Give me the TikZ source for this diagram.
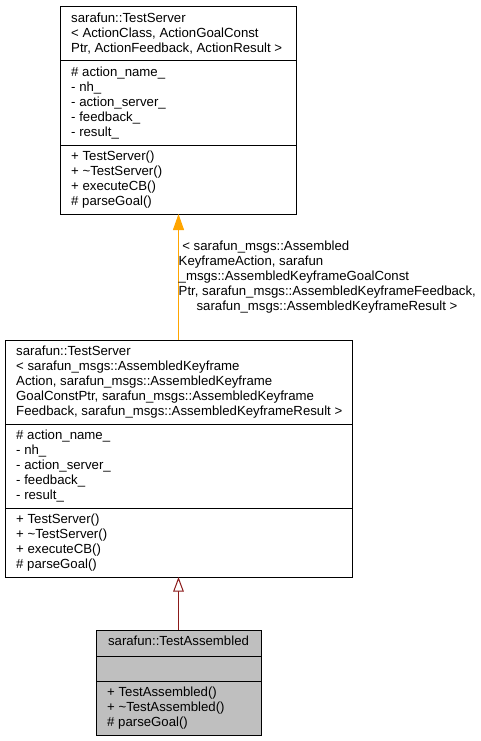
\documentclass[tikz,border=0pt]{standalone}
\usepackage{fontspec}
\setmainfont{Liberation Sans}
\usetikzlibrary{arrows.meta}
\definecolor{edgeorange}{HTML}{FFA500}
\definecolor{edgered}{HTML}{8B1A1A}
\definecolor{curgray}{HTML}{BFBFBF}
\newcommand\seclines[4]{%
  \foreach \t [count=\i from 0] in {#4} {\node[txt] (#1-\i) at (#2, #3+15.5+15*\i) {\t};}}
\begin{document}
\begin{tikzpicture}[x=1pt,y=-1pt,
  sec/.style={draw=black, line width=1pt, inner sep=0pt, outer sep=0pt, anchor=north west},
  txt/.style={anchor=base west, inner sep=0pt, font=\fontsize{13.2}{15}\selectfont},
  txtc/.style={txt, anchor=base},
  tmpledge/.style={draw=edgeorange, line width=1pt, -{Triangle[length=16pt,width=11pt,fill=edgeorange]}},
  inhedge/.style={draw=edgered, line width=1pt, -{Triangle[open,length=14.5pt,width=10.5pt,fill=white]}}]
\useasboundingbox (0,0) rectangle (481,741);
% top template class
\node[sec, minimum width=236, minimum height=54] (topH) at (60,7) {};
\node[sec, minimum width=236, minimum height=84] (topA) at (60,61) {};
\node[sec, minimum width=236, minimum height=69] (topM) at (60,145) {};
\seclines{th}{71}{7}{{sarafun::TestServer},{< ActionClass, ActionGoalConst},{Ptr, ActionFeedback, ActionResult >}}
\seclines{ta}{71}{61}{{\# action\_name\_},{- nh\_},{- action\_server\_},{- feedback\_},{- result\_}}
\seclines{tm}{71}{145}{{+ TestServer()},{+ \textasciitilde TestServer()},{+ executeCB()},{\# parseGoal()}}
% middle instantiated class
\node[sec, minimum width=347, minimum height=84] (midH) at (5,340) {};
\node[sec, minimum width=347, minimum height=84] (midA) at (5,424) {};
\node[sec, minimum width=347, minimum height=69] (midM) at (5,508) {};
\seclines{mh}{16}{340}{{sarafun::TestServer},{< sarafun\_msgs::AssembledKeyframe},{Action, sarafun\_msgs::AssembledKeyframe},{GoalConstPtr, sarafun\_msgs::AssembledKeyframe},{Feedback, sarafun\_msgs::AssembledKeyframeResult >}}
\seclines{ma}{16}{424}{{\# action\_name\_},{- nh\_},{- action\_server\_},{- feedback\_},{- result\_}}
\seclines{mm}{16}{508}{{+ TestServer()},{+ \textasciitilde TestServer()},{+ executeCB()},{\# parseGoal()}}
% bottom class
\node[sec, fill=curgray, minimum width=165, minimum height=26] (botH) at (96,630) {};
\node[sec, fill=curgray, minimum width=165, minimum height=25] (botA) at (96,656) {};
\node[sec, fill=curgray, minimum width=165, minimum height=54] (botM) at (96,681) {};
\node[txtc] (bh-0) at (178.5,645.5) {sarafun::TestAssembled};
\seclines{bm}{107}{681}{{+ TestAssembled()},{+ \textasciitilde TestAssembled()},{\# parseGoal()}}
% edges
\draw[tmpledge] (midH.north) -- (midH.north |- topM.south);
\draw[inhedge] (botH.north) -- (botH.north |- midM.south);
% edge label
\seclines{lb}{178.5}{234.5}{{\ < sarafun\_msgs::Assembled},{KeyframeAction, sarafun},{\_msgs::AssembledKeyframeGoalConst},{Ptr, sarafun\_msgs::AssembledKeyframeFeedback,}}
\node[txtc] (lb-4) at (327,310) {sarafun\_msgs::AssembledKeyframeResult >};
\end{tikzpicture}
\end{document}
